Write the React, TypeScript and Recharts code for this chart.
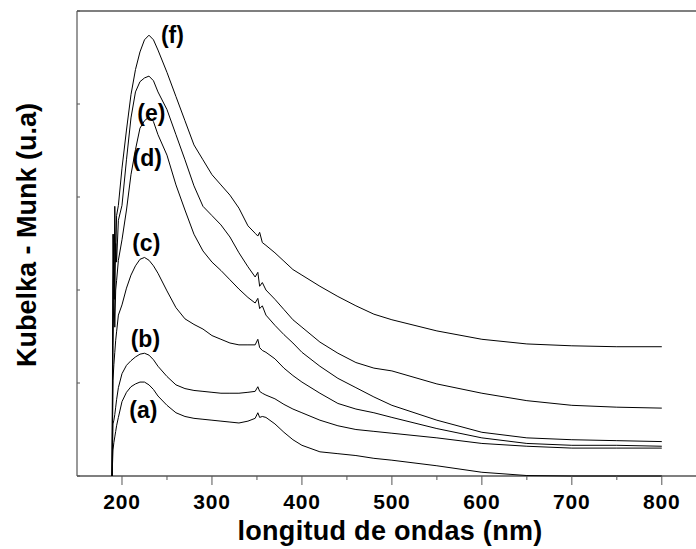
import React from 'react';
import {
  LineChart,
  Line,
  XAxis,
  YAxis,
  ReferenceLine,
  ReferenceDot,
  Label,
} from 'recharts';

// wavelength grid (nm) shared by all spectra
const wavelength = [189, 190, 191, 192, 193, 194, 196, 200, 205, 210, 215, 220, 225, 230, 235, 240, 250, 260, 270, 280, 290, 300, 310, 320, 330, 340, 348, 351, 353, 356, 360, 370, 380, 390, 400, 420, 440, 460, 480, 500, 550, 600, 650, 700, 750, 800];

const specA = [0, 0.28, 0.36, 0.42, 0.48, 0.54, 0.63, 0.8, 0.9, 0.96, 0.99, 1.01, 1.01, 0.98, 0.93, 0.86, 0.76, 0.68, 0.64, 0.62, 0.61, 0.6, 0.59, 0.58, 0.57, 0.59, 0.62, 0.68, 0.63, 0.64, 0.63, 0.56, 0.47, 0.39, 0.33, 0.26, 0.24, 0.22, 0.19, 0.17, 0.11, 0.04, 0.005, 0, 0, 0];
const specB = [0, 0.56, 0.6, 0.66, 0.74, 0.82, 0.95, 1.1, 1.19, 1.24, 1.28, 1.31, 1.32, 1.3, 1.25, 1.18, 1.07, 0.98, 0.94, 0.92, 0.91, 0.9, 0.89, 0.89, 0.89, 0.9, 0.91, 0.96, 0.91, 0.89, 0.87, 0.83, 0.77, 0.72, 0.68, 0.6, 0.54, 0.5, 0.48, 0.46, 0.41, 0.35, 0.32, 0.3, 0.3, 0.3];
const specC = [0, 1.03, 1.2, 1.33, 1.46, 1.55, 1.73, 1.84, 2.02, 2.16, 2.26, 2.33, 2.35, 2.32, 2.26, 2.18, 1.99, 1.81, 1.69, 1.63, 1.58, 1.51, 1.47, 1.43, 1.41, 1.41, 1.41, 1.47, 1.38, 1.35, 1.33, 1.26, 1.16, 1.08, 1.01, 0.89, 0.78, 0.72, 0.68, 0.63, 0.51, 0.41, 0.35, 0.33, 0.33, 0.32];
const specD = [0, 1.4, 2.0, 1.6, 2.0, 2.1, 2.32, 2.54, 2.86, 3.24, 3.51, 3.74, 3.82, 3.86, 3.81, 3.67, 3.45, 3.13, 2.86, 2.6, 2.42, 2.3, 2.21, 2.11, 2.01, 1.92, 1.86, 1.91, 1.8, 1.83, 1.73, 1.62, 1.52, 1.43, 1.33, 1.18, 1.05, 0.95, 0.85, 0.76, 0.6, 0.47, 0.41, 0.39, 0.38, 0.37];
const specE = [0, 2.0, 2.6, 1.9, 2.5, 2.3, 2.75, 2.91, 3.4, 3.85, 4.13, 4.24, 4.28, 4.3, 4.25, 4.13, 3.94, 3.67, 3.4, 3.12, 2.9, 2.8, 2.7, 2.57, 2.4, 2.25, 2.14, 2.19, 2.04, 2.08, 2.0, 1.9, 1.79, 1.68, 1.6, 1.44, 1.32, 1.22, 1.16, 1.13, 0.99, 0.89, 0.81, 0.76, 0.74, 0.73];
const specF = [0, 2.6, 1.9, 2.9, 2.3, 2.8, 2.91, 3.31, 3.72, 4.1, 4.37, 4.56, 4.69, 4.74, 4.69, 4.58, 4.34, 4.08, 3.82, 3.56, 3.4, 3.24, 3.13, 3.02, 2.88, 2.69, 2.61, 2.58, 2.62, 2.51, 2.48, 2.4, 2.31, 2.22, 2.16, 2.04, 1.93, 1.83, 1.74, 1.68, 1.56, 1.47, 1.42, 1.4, 1.39, 1.39];

const seriesKeys = ['a', 'b', 'c', 'd', 'e', 'f'];
const seriesValues = [specA, specB, specC, specD, specE, specF];

// curve tags "(a)".."(f)" placed in data units
const tagText = ['(a)', '(b)', '(c)', '(d)', '(e)', '(f)'];
const tagX = [223.7, 226, 227, 228, 232.6, 256];
const tagY = [0.71, 1.47, 2.51, 3.42, 3.91, 4.74];

const xTicks = [200, 250, 300, 350, 400, 450, 500, 550, 600, 650, 700, 750, 800];
const yTicks = [0, 1, 2, 3, 4, 5];

const FONT = '"Liberation Sans", Arial, Helvetica, sans-serif';

const data = wavelength.map((w, i) => {
  const row: Record<string, number> = { w };
  seriesKeys.forEach((k, j) => {
    row[k] = seriesValues[j][i];
  });
  return row;
});

const XTick = (props: any) => {
  const { x, y, payload } = props;
  const major = payload.value % 100 === 0;
  return (
    <g>
      <line x1={x} y1={y} x2={x} y2={y + (major ? 9 : 4)} stroke="#555" strokeWidth={1} />
      {major && (
        <text
          x={x}
          y={y + 33}
          textAnchor="middle"
          fontFamily={FONT}
          fontWeight="bold"
          fontSize={21}
          letterSpacing={0.8}
          fill="#000"
        >
          {payload.value}
        </text>
      )}
    </g>
  );
};

// inward pointing ticks, no numbers on the y axis
const YTick = (props: any) => {
  const { x, y } = props;
  return <line x1={x} y1={y} x2={x + 3} y2={y} stroke="#555" strokeWidth={1} />;
};

const YTitle = () => (
  <text
    x={27}
    y={235}
    transform="rotate(-90 27 235)"
    textAnchor="middle"
    dominantBaseline="central"
    fontFamily={FONT}
    fontWeight="bold"
    fontSize={27}
    fill="#000"
  >
    Kubelka - Munk (u.a)
  </text>
);

const XTitle = () => (
  <text
    x={390}
    y={540}
    textAnchor="middle"
    fontFamily={FONT}
    fontWeight="bold"
    fontSize={27}
    letterSpacing={0.3}
    fill="#000"
  >
    longitud de ondas (nm)
  </text>
);

export default function App() {
  return (
    <div style={{ position: 'absolute', left: 0, top: 0, width: 696, height: 549, background: '#fff' }}>
      <LineChart width={696} height={549} data={data} margin={{ top: 11, right: 0, bottom: 0, left: 0 }}>
        <XAxis
          dataKey="w"
          type="number"
          domain={[150, 838]}
          allowDataOverflow
          ticks={xTicks}
          tick={<XTick />}
          tickLine={false}
          tickSize={0}
          tickMargin={0}
          height={73}
          axisLine={{ stroke: '#000', strokeWidth: 1.2 }}
          interval={0}
        >
          <Label content={<XTitle />} />
        </XAxis>
        <YAxis
          type="number"
          domain={[0, 5]}
          ticks={yTicks}
          width={77}
          tick={<YTick />}
          tickLine={false}
          tickSize={0}
          tickMargin={0}
          interval={0}
          axisLine={{ stroke: '#555', strokeWidth: 1.2 }}
        >
          <Label content={<YTitle />} />
        </YAxis>
        <ReferenceLine y={5} stroke="#000" strokeWidth={1.2} />
        {seriesKeys.map((k) => (
          <Line
            key={k}
            type="linear"
            dataKey={k}
            stroke="#000"
            strokeWidth={1}
            dot={false}
            isAnimationActive={false}
          />
        ))}
        {tagText.map((t, i) => (
          <ReferenceDot
            key={t}
            x={tagX[i]}
            y={tagY[i]}
            r={0}
            fill="none"
            stroke="none"
            label={{
              value: t,
              position: 'center',
              fill: '#000',
              fontSize: 23,
              fontWeight: 'bold',
              fontFamily: FONT,
            }}
          />
        ))}
      </LineChart>
    </div>
  );
}
